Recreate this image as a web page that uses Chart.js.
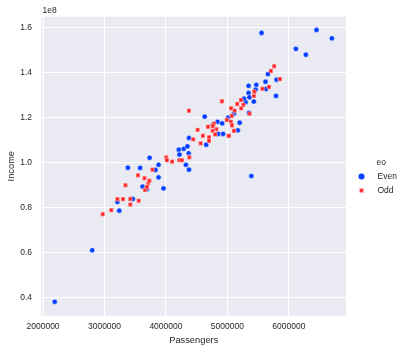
<!DOCTYPE html>
<html>
<head>
<meta charset="utf-8">
<script src="https://cdn.jsdelivr.net/npm/chart.js@4.4.0/dist/chart.umd.min.js"></script>
<style>
  html, body { margin: 0; padding: 0; background: #fff; }
  #chartContainer { width: 405px; height: 353px; position: relative; }
</style>
</head>
<body>
<div id="chartContainer"><canvas id="Chart1"></canvas></div>
<script>
// values (Passengers vs Income, hue = eo)
const seriesNames = ['Even', 'Odd'];
const legendTitle = 'eo';

const evenPassengers = [2190000, 2800000, 3240000, 3210000, 3460000, 3620000, 3690000, 3880000, 3960000, 3830000,
    3380000, 3580000, 3735000, 3880000, 4210000, 4290000, 4350000, 4220000, 4325000, 4375000,
    4375000, 4630000, 4840000, 4915000, 4770000, 4655000, 4850000, 4930000, 5013000, 5106000,
    5200000, 5170000, 5296000, 5270000, 5430000, 5345000, 5360000, 5345000, 5470000, 5620000,
    5660000, 5790000, 5800000, 5630000, 5556000, 6450000, 6700000, 6114000, 6276000, 5390000,
    5460000, 5350000, 4370000];
const evenIncome = [38000000, 60900000, 78500000, 82400000, 83700000, 89200000, 88100000, 93300000, 88400000, 96600000,
    97600000, 97500000, 102000000, 98900000, 105600000, 106000000, 107100000, 103400000, 98900000, 96700000,
    110800000, 120300000, 118000000, 117300000, 116900000, 107800000, 112600000, 112600000, 119800000, 121600000,
    117600000, 114200000, 126700000, 128300000, 127000000, 130800000, 128900000, 134000000, 134400000, 135800000,
    139200000, 129500000, 136700000, 132600000, 157500000, 158800000, 155100000, 150400000, 147800000, 93900000,
    132300000, 122000000, 104000000];

const oddPassengers = [2970000, 3110000, 3210000, 3300000, 3340000, 3420000, 3420000, 3556000, 3545000, 3660000,
    3650000, 3710000, 3730000, 3690000, 3780000, 4005000, 4016000, 4100000, 4216000, 4260000,
    4380000, 4374000, 4515000, 4444000, 4910000, 4683000, 4564000, 5020000, 5220000, 5257000,
    5160000, 5225000, 5060000, 5117000, 5360000, 5070000, 4990000, 5057000, 5073000, 4780000,
    5106000, 5024000, 5430000, 5437000, 5570000, 5675000, 5854000, 5761000, 5707000, 4760000,
    4820000, 4760000, 4800000, 4600000, 4700000, 4700000];
const oddIncome = [76900000, 78700000, 83600000, 83600000, 89800000, 81200000, 83700000, 82900000, 94200000, 87700000,
    92900000, 90700000, 91800000, 89000000, 96700000, 102200000, 100900000, 100300000, 100900000, 100900000,
    102200000, 122900000, 114400000, 110200000, 127100000, 115800000, 108400000, 111700000, 127700000, 125500000,
    125900000, 124000000, 124000000, 122900000, 121600000, 120600000, 118800000, 118000000, 116400000, 117200000,
    114000000, 111800000, 129500000, 131400000, 132700000, 133500000, 137000000, 142700000, 140600000, 116100000,
    114700000, 114000000, 112400000, 111800000, 111100000, 109500000];

const xTicks = [2000000, 3000000, 4000000, 5000000, 6000000];
const yTicks = [40000000, 60000000, 80000000, 100000000, 120000000, 140000000, 160000000];
const yTickLabels = ['0.4', '0.6', '0.8', '1.0', '1.2', '1.4', '1.6'];
const yOffsetText = '1e8';

const colors = ['#023eff', '#ff1414'];
const FONT = '"Liberation Sans", Arial, sans-serif';
const TEXT = '#262626';

function toPoints(xs, ys) {
    return xs.map((x, i) => ({x: x, y: ys[i]}));
}

// filled "X" marker with a thin white edge, like seaborn's 'X'
function makeX(size, color) {
    const c = document.createElement('canvas');
    c.width = size; c.height = size;
    const g = c.getContext('2d');
    const a = 1.1, b = size - 1.1;
    g.lineCap = 'butt';
    g.strokeStyle = '#ffffff';
    g.lineWidth = 2.6;
    g.beginPath(); g.moveTo(a, a); g.lineTo(b, b); g.moveTo(b, a); g.lineTo(a, b); g.stroke();
    g.strokeStyle = color;
    g.lineWidth = 1.7;
    g.beginPath(); g.moveTo(a + 0.3, a + 0.3); g.lineTo(b - 0.3, b - 0.3); g.moveTo(b - 0.3, a + 0.3); g.lineTo(a + 0.3, b - 0.3); g.stroke();
    return c;
}
const xMarker = makeX(6, colors[1]);

// grey panel behind the grid
const panelPlugin = {
    id: 'panel',
    beforeDraw(chart) {
        const {ctx, chartArea: a} = chart;
        ctx.save();
        ctx.fillStyle = '#eaeaf2';
        ctx.fillRect(a.left, a.top, a.right - a.left, a.bottom - a.top);
        ctx.restore();
    }
};

// offset text "1e8" and the legend on the right
const extrasPlugin = {
    id: 'extras',
    afterDraw(chart) {
        const {ctx, chartArea: a} = chart;
        ctx.save();
        ctx.fillStyle = TEXT;
        ctx.font = '8.5px ' + FONT;
        ctx.textBaseline = 'middle';
        ctx.textAlign = 'left';
        ctx.fillText(yOffsetText, a.left + 1, 11);

        // legend
        const lx = a.right + 15.5;
        let ly = 163;
        ctx.fillText(legendTitle, lx + 15, ly);
        ly += 13.5;
        ctx.fillText(seriesNames[0], lx + 16, ly);
        ctx.beginPath();
        ctx.arc(lx, ly, 3, 0, Math.PI * 2);
        ctx.fillStyle = colors[0];
        ctx.fill();
        ly += 14;
        ctx.fillStyle = TEXT;
        ctx.fillText(seriesNames[1], lx + 16, ly);
        ctx.drawImage(xMarker, lx - 3, ly - 3);
        ctx.restore();
    }
};

const ctx = document.getElementById('Chart1').getContext('2d');
const Chart1 = new Chart(ctx, {
    type: 'scatter',
    data: {
        datasets: [{
            label: seriesNames[0],
            data: toPoints(evenPassengers, evenIncome),
            backgroundColor: colors[0],
            borderColor: '#ffffff',
            borderWidth: 0.5,
            pointRadius: 2.6,
            pointStyle: 'circle',
            order: 1
        }, {
            label: seriesNames[1],
            data: toPoints(oddPassengers, oddIncome),
            pointStyle: xMarker,
            pointRadius: 3,
            order: 0
        }]
    },
    options: {
        responsive: true,
        maintainAspectRatio: false,
        animation: false,
        layout: {
            padding: {top: 16.7, right: 59, left: 0, bottom: 0}
        },
        plugins: {
            legend: { display: false },
            tooltip: { enabled: false }
        },
        scales: {
            x: {
                type: 'linear',
                min: 1975000,
                max: 6930000,
                afterBuildTicks: (scale) => { scale.ticks = xTicks.map(v => ({value: v})); },
                afterFit: (scale) => { scale.height = 37.3; },
                ticks: {
                    color: TEXT,
                    font: {family: FONT, size: 8.5},
                    padding: 6.2,
                    maxRotation: 0,
                    callback: (v) => String(v)
                },
                grid: { color: '#ffffff', lineWidth: 1, drawTicks: false },
                border: { display: false },
                title: {
                    display: true,
                    text: 'Passengers',
                    color: TEXT,
                    font: {family: FONT, size: 9.3},
                    padding: {top: 0, bottom: 7.4}
                }
            },
            y: {
                type: 'linear',
                min: 31800000,
                max: 164700000,
                afterBuildTicks: (scale) => { scale.ticks = yTicks.map(v => ({value: v})); },
                afterFit: (scale) => { scale.width = 41.5; },
                ticks: {
                    color: TEXT,
                    font: {family: FONT, size: 8.5},
                    padding: 9.5,
                    callback: (v) => yTickLabels[yTicks.indexOf(v)]
                },
                grid: { color: '#ffffff', lineWidth: 1, drawTicks: false },
                border: { display: false },
                title: {
                    display: true,
                    text: 'Income',
                    color: TEXT,
                    font: {family: FONT, size: 9.3},
                    padding: {top: 5.4, bottom: 0}
                }
            }
        }
    },
    plugins: [panelPlugin, extrasPlugin]
});
</script>
</body>
</html>
